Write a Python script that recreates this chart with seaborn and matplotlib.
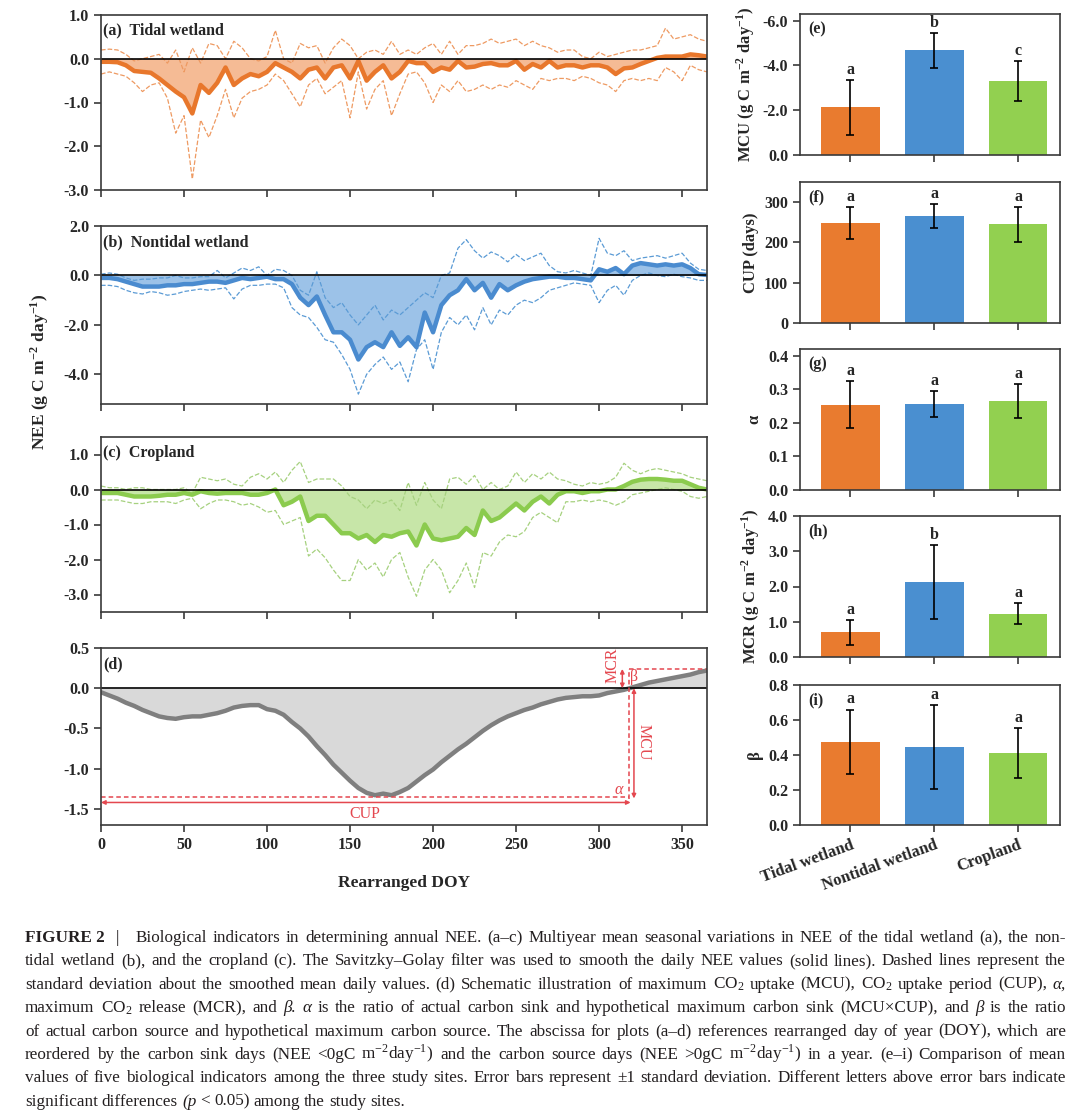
"""Recreate Figure 2: seasonal NEE curves (a-d) and biological indicator bars (e-i)."""

import matplotlib

matplotlib.use("Agg")

import matplotlib.pyplot as plt
import numpy as np
import pandas as pd
import seaborn as sns
from matplotlib.ticker import FormatStrFormatter

W, H = 1080, 1114

# rearranged day of year, sampled every 5 days
DOY = np.arange(0, 366, 5)

TIDAL_MEAN = [
    -0.07, -0.07, -0.08, -0.15, -0.28, -0.30, -0.32, -0.45, -0.60, -0.75,
    -0.88, -1.25, -0.60, -0.78, -0.55, -0.20, -0.60, -0.45, -0.35, -0.40,
    -0.30, -0.10, -0.20, -0.30, -0.45, -0.25, -0.20, -0.45, -0.20, -0.15,
    -0.45, -0.05, -0.50, -0.30, -0.15, -0.45, -0.30, -0.05, -0.10, -0.10,
    -0.30, -0.20, -0.25, -0.05, -0.20, -0.18, -0.12, -0.10, -0.15, -0.15,
    -0.05, -0.25, -0.12, -0.20, -0.05, -0.20, -0.15, -0.15, -0.20, -0.15,
    -0.15, -0.20, -0.35, -0.22, -0.20, -0.12, -0.05, 0.02, 0.05, 0.05,
    0.05, 0.10, 0.08, 0.05,
]
TIDAL_UPPER = [
    0.20, 0.22, 0.20, 0.10, -0.05, 0.00, 0.05, 0.10, -0.10, 0.20,
    -0.30, 0.25, -0.10, 0.35, 0.30, 0.00, 0.40, 0.25, 0.00, -0.05,
    0.05, 0.65, 0.00, -0.10, 0.35, 0.25, 0.30, -0.10, 0.25, 0.45,
    0.30, 0.00, 0.15, 0.20, 0.10, 0.40, 0.10, 0.20, 0.10, 0.25,
    0.35, 0.10, 0.40, 0.10, 0.30, 0.30, 0.35, 0.45, 0.35, 0.40,
    0.45, 0.30, 0.40, 0.30, 0.25, 0.15, 0.20, 0.20, 0.05, 0.00,
    0.15, 0.05, 0.10, 0.15, 0.20, 0.20, 0.25, 0.30, 0.70, 0.45,
    0.50, 0.55, 0.45, 0.40,
]
TIDAL_LOWER = [
    -0.35, -0.30, -0.35, -0.40, -0.55, -0.75, -0.60, -0.55, -0.90, -1.70,
    -1.30, -2.75, -1.40, -1.80, -1.30, -0.70, -1.35, -0.90, -0.75, -0.70,
    -0.60, -0.35, -0.50, -0.80, -1.10, -0.60, -0.45, -0.80, -0.65, -0.50,
    -1.35, -0.30, -1.15, -0.70, -0.50, -1.30, -0.80, -0.35, -0.30, -0.55,
    -1.00, -0.60, -0.75, -0.50, -0.75, -0.70, -0.60, -0.70, -0.60, -0.65,
    -0.50, -0.60, -0.70, -0.45, -0.50, -0.45, -0.45, -0.50, -0.40, -0.45,
    -0.55, -0.60, -0.75, -0.50, -0.45, -0.50, -0.45, -0.50, -0.20, -0.30,
    -0.50, -0.15, -0.25, -0.30,
]

NONTIDAL_MEAN = [
    -0.10, -0.10, -0.15, -0.25, -0.35, -0.45, -0.45, -0.45, -0.40, -0.40,
    -0.35, -0.35, -0.30, -0.25, -0.25, -0.30, -0.20, -0.10, -0.15, -0.10,
    -0.05, -0.15, -0.15, -0.35, -0.90, -1.20, -0.85, -1.60, -2.30, -2.30,
    -2.60, -3.40, -2.90, -2.70, -2.90, -2.30, -2.85, -2.50, -2.90, -1.50,
    -2.30, -1.20, -0.80, -0.60, -0.15, -0.60, -0.30, -0.90, -0.35, -0.60,
    -0.40, -0.25, -0.15, -0.10, -0.05, -0.05, -0.10, -0.10, -0.15, -0.20,
    0.25, 0.15, 0.30, 0.05, 0.40, 0.50, 0.45, 0.40, 0.45, 0.40,
    0.45, 0.30, 0.05, 0.02,
]
NONTIDAL_UPPER = [
    0.05, 0.10, 0.05, -0.10, -0.20, -0.15, -0.15, -0.10, -0.10, 0.00,
    -0.10, -0.10, -0.05, -0.05, 0.20, -0.10, 0.10, 0.30, 0.20, 0.35,
    0.00, 0.25, 0.20, 0.00, -0.60, -0.80, 0.15, -0.90, -1.30, -1.10,
    -1.60, -2.00, -1.60, -1.20, -1.80, -1.40, -1.60, -1.30, -1.00, -0.70,
    -0.90, 0.00, 0.10, 1.10, 1.45, 1.00, 0.70, 0.95, 0.80, 0.55,
    0.85, 0.60, 0.75, 0.90, 0.40, 0.15, 0.10, 0.20, 0.10, 0.00,
    1.50, 0.90, 0.80, 1.00, 0.60, 0.70, 0.75, 0.80, 0.70, 0.80,
    0.90, 0.50, 0.25, 0.20,
]
NONTIDAL_LOWER = [
    -0.40, -0.40, -0.45, -0.60, -0.70, -0.75, -0.65, -0.70, -0.80, -0.75,
    -0.65, -0.60, -0.55, -0.60, -0.55, -0.50, -0.95, -0.55, -0.40, -0.40,
    -0.35, -0.35, -0.50, -1.30, -1.60, -1.70, -2.10, -2.60, -2.70, -3.20,
    -3.80, -4.80, -4.00, -3.60, -3.30, -3.80, -3.50, -4.30, -3.00, -2.60,
    -3.80, -2.30, -1.70, -2.00, -1.60, -2.20, -1.30, -2.00, -1.40, -1.60,
    -1.20, -1.00, -1.10, -0.90, -0.60, -0.50, -0.40, -0.30, -0.35, -0.40,
    -1.10, -0.60, -0.40, -0.80, -0.20, 0.00, 0.10, 0.00, -0.05, 0.05,
    -0.05, -0.10, -0.20, -0.20,
]

CROP_MEAN = [
    -0.10, -0.10, -0.10, -0.15, -0.20, -0.20, -0.20, -0.18, -0.15, -0.15,
    -0.10, -0.15, -0.05, -0.10, -0.12, -0.10, -0.10, -0.10, -0.15, -0.15,
    -0.10, 0.00, -0.45, -0.35, -0.20, -0.90, -0.75, -0.75, -1.00, -1.25,
    -1.25, -1.40, -1.30, -1.50, -1.30, -1.35, -1.25, -1.20, -1.60, -1.00,
    -1.40, -1.45, -1.40, -1.35, -1.10, -1.30, -0.60, -0.90, -0.80, -0.60,
    -0.40, -0.60, -0.35, -0.20, -0.40, -0.15, -0.05, -0.05, -0.10, -0.05,
    -0.05, 0.00, 0.00, 0.10, 0.22, 0.28, 0.30, 0.30, 0.28, 0.25,
    0.25, 0.15, 0.05, 0.00,
]
CROP_UPPER = [
    0.10, 0.05, 0.05, 0.00, 0.05, 0.05, 0.00, 0.00, 0.00, 0.00,
    0.05, -0.10, 0.35, 0.30, 0.25, 0.30, 0.15, 0.10, 0.35, 0.45,
    0.30, 0.50, 0.20, 0.55, 0.80, 0.20, 0.30, 0.30, 0.30, 0.10,
    -0.20, -0.30, -0.55, -0.30, -0.40, -0.30, -0.60, 0.20, -0.45, 0.20,
    -0.30, -0.55, 0.30, 0.35, 0.15, 0.40, 0.00, 0.20, 0.00, 0.10,
    0.50, 0.20, 0.45, 0.30, 0.50, 0.30, 0.25, 0.15, 0.10, 0.20,
    0.15, 0.20, 0.35, 0.75, 0.55, 0.45, 0.55, 0.60, 0.55, 0.50,
    0.45, 0.35, 0.30, 0.25,
]
CROP_LOWER = [
    -0.30, -0.30, -0.30, -0.35, -0.40, -0.40, -0.35, -0.35, -0.35, -0.40,
    -0.30, -0.25, -0.55, -0.40, -0.30, -0.30, -0.35, -0.45, -0.40, -0.50,
    -0.65, -0.60, -1.00, -0.90, -0.80, -1.90, -1.70, -1.95, -2.30, -2.60,
    -2.60, -2.00, -2.30, -2.10, -2.50, -2.00, -1.80, -2.50, -3.05, -2.30,
    -2.00, -2.30, -2.95, -2.60, -2.10, -2.80, -1.80, -1.90, -1.50, -1.30,
    -1.35, -1.20, -0.80, -0.65, -0.80, -0.95, -0.35, -0.35, -0.30, -0.35,
    -0.30, -0.35, -0.45, -0.35, -0.15, -0.10, -0.05, 0.00, 0.05, 0.00,
    -0.05, -0.20, -0.25, -0.20,
]

SCHEME_NEE = [
    -0.05, -0.09, -0.13, -0.18, -0.22, -0.27, -0.31, -0.35, -0.37, -0.38,
    -0.36, -0.35, -0.35, -0.33, -0.31, -0.28, -0.24, -0.22, -0.21, -0.21,
    -0.26, -0.28, -0.33, -0.42, -0.50, -0.60, -0.72, -0.83, -0.95, -1.05,
    -1.15, -1.24, -1.30, -1.33, -1.31, -1.33, -1.29, -1.24, -1.16, -1.08,
    -1.01, -0.92, -0.84, -0.76, -0.69, -0.61, -0.53, -0.46, -0.40, -0.35,
    -0.31, -0.27, -0.24, -0.20, -0.17, -0.14, -0.12, -0.11, -0.10, -0.10,
    -0.09, -0.06, -0.04, -0.02, 0.01, 0.04, 0.07, 0.09, 0.11, 0.13,
    0.15, 0.17, 0.20, 0.22,
]
# schematic marks in (d)
CUP_END = 318
MCU_LEVEL = -1.35
MCR_LEVEL = 0.24

SITES = ["Tidal wetland", "Nontidal wetland", "Cropland"]
MCU_MEAN = [-2.13, -4.68, -3.31]
MCU_SD = [1.22, 0.78, 0.90]
MCU_LETTERS = ["a", "b", "c"]
CUP_MEAN = [248, 265, 245]
CUP_SD = [40, 30, 43]
CUP_LETTERS = ["a", "a", "a"]
ALPHA_MEAN = [0.254, 0.256, 0.265]
ALPHA_SD = [0.070, 0.040, 0.050]
ALPHA_LETTERS = ["a", "a", "a"]
MCR_MEAN = [0.70, 2.13, 1.23]
MCR_SD = [0.35, 1.05, 0.29]
MCR_LETTERS = ["a", "b", "a"]
BETA_MEAN = [0.475, 0.445, 0.410]
BETA_SD = [0.185, 0.238, 0.142]
BETA_LETTERS = ["a", "a", "a"]

BAR_COLORS = ["#E97B2F", "#4A8FD0", "#92D050"]
RED = "#E4474F"

# words containing "§" are set in italics
CAPTION = [
    "Biological indicators in determining annual NEE. (a–c) Multiyear mean seasonal variations in NEE of the tidal wetland (a), the non-",
    "tidal wetland (b), and the cropland (c). The Savitzky–Golay filter was used to smooth the daily NEE values (solid lines). Dashed lines represent the",
    r"standard deviation about the smoothed mean daily values. (d) Schematic illustration of maximum CO$_{\mathregular{2}}$ uptake (MCU), CO$_{\mathregular{2}}$ uptake period (CUP), §α,",
    r"maximum CO$_{\mathregular{2}}$ release (MCR), and §β. §α is the ratio of actual carbon sink and hypothetical maximum carbon sink (MCU×CUP), and §β is the ratio",
    "of actual carbon source and hypothetical maximum carbon source. The abscissa for plots (a–d) references rearranged day of year (DOY), which are",
    r"reordered by the carbon sink days (NEE <0gC m$^{\mathregular{-2}}$day$^{\mathregular{-1}}$) and the carbon source days (NEE >0gC m$^{\mathregular{-2}}$day$^{\mathregular{-1}}$) in a year. (e–i) Comparison of mean",
    "values of five biological indicators among the three study sites. Error bars represent ±1 standard deviation. Different letters above error bars indicate",
    "significant differences (§p < 0.05) among the study sites.",
]

UNIT = r"(g C m$^{\mathregular{-2}}$ day$^{\mathregular{-1}}$)"


def add_axes_px(fig, left, top, right, bottom):
    return fig.add_axes([left / W, 1 - bottom / H, (right - left) / W, (bottom - top) / H])


def style_box(ax):
    for sp in ax.spines.values():
        sp.set_visible(True)
        sp.set_linewidth(1.2)
        sp.set_color("#3a3a3a")
    ax.tick_params(length=5, width=1.2, labelsize=11.5, color="#3a3a3a")


def draw_site(ax, mean, upper, lower, colors, ylim, yticks, label):
    line_c, fill_c, dash_c = colors
    ax.fill_between(DOY, mean, 0, color=fill_c, lw=0)
    sns.lineplot(x=DOY, y=upper, ax=ax, color=dash_c, lw=0.9, linestyle="--")
    sns.lineplot(x=DOY, y=lower, ax=ax, color=dash_c, lw=0.9, linestyle="--")
    sns.lineplot(x=DOY, y=mean, ax=ax, color=line_c, lw=3.2)
    ax.axhline(0, color="black", lw=1.2)
    ax.set_xlim(0, 365)
    ax.set_ylim(ylim)
    ax.set_yticks(yticks)
    ax.set_xticks(range(0, 351, 50))
    ax.yaxis.set_major_formatter(FormatStrFormatter("%.1f"))
    ax.set_xlabel("")
    ax.set_ylabel("")
    style_box(ax)
    ax.tick_params(axis="x", labelbottom=False)
    ax.text(0.004, 0.955, label, transform=ax.transAxes, ha="left", va="top", fontsize=11.5)


def draw_bars(ax, vals, sds, letters, ylim, yticks, fmt, ylabel, tag):
    df = pd.DataFrame({"site": SITES, "value": vals})
    sns.barplot(data=df, x="site", y="value", hue="site", palette=BAR_COLORS,
                ax=ax, width=0.7, legend=False, saturation=1, linewidth=0)
    ax.errorbar(range(3), vals, yerr=sds, fmt="none", ecolor="black",
                elinewidth=1.2, capsize=3, capthick=1.2)
    for i, (v, s, lab) in enumerate(zip(vals, sds, letters)):
        top = v + s if v >= 0 else v - s
        ax.annotate(lab, (i, top), xytext=(0, 1.5), textcoords="offset points",
                    ha="center", va="bottom", fontsize=11.5)
    ax.set_xlim(-0.6, 2.5)
    ax.set_ylim(ylim)
    ax.set_yticks(yticks)
    ax.yaxis.set_major_formatter(FormatStrFormatter(fmt))
    ax.set_xlabel("")
    ax.set_ylabel(ylabel, fontsize=12)
    style_box(ax)
    ax.tick_params(axis="x", labelbottom=False)
    ax.text(0.03, 0.95, tag, transform=ax.transAxes, ha="left", va="top", fontsize=11.5)


def put_line(fig, renderer, words, x0, x1, y, justify=True, **kw):
    objs = []
    for w in words:
        style = "normal"
        if "§" in w:
            w, style = w.replace("§", ""), "italic"
        objs.append(fig.text(0, 1 - y / H, w, ha="left", va="baseline", fontstyle=style, **kw))
    widths = [t.get_window_extent(renderer).width for t in objs]
    gap = 4.0
    if justify and len(objs) > 1:
        gap = max((x1 - x0 - sum(widths)) / (len(objs) - 1), 2.5)
    x = x0
    for t, w in zip(objs, widths):
        t.set_x(x / W)
        x += w + gap


def main() -> None:
    sns.set_style("ticks")
    plt.rcParams.update({
        "font.family": ["Liberation Serif", "DejaVu Serif"],
        "font.weight": "bold",
        "axes.labelweight": "bold",
        "mathtext.fontset": "stix",
        "axes.unicode_minus": False,
        "xtick.direction": "out",
        "ytick.direction": "out",
    })

    fig = plt.figure(figsize=(W / 100, H / 100), dpi=100)
    fig.patch.set_facecolor("white")

    ax_a = add_axes_px(fig, 101, 15, 707, 190)
    draw_site(ax_a, TIDAL_MEAN, TIDAL_UPPER, TIDAL_LOWER,
              ("#E8772C", "#F5BB95", "#EE9A62"), (-3, 1), [-3, -2, -1, 0, 1],
              "(a)  Tidal wetland")

    ax_b = add_axes_px(fig, 101, 226, 707, 404)
    draw_site(ax_b, NONTIDAL_MEAN, NONTIDAL_UPPER, NONTIDAL_LOWER,
              ("#4A8BCF", "#9CC2E8", "#5B9BD5"), (-5.2, 2), [-4, -2, 0, 2],
              "(b)  Nontidal wetland")

    ax_c = add_axes_px(fig, 101, 437, 707, 612)
    draw_site(ax_c, CROP_MEAN, CROP_UPPER, CROP_LOWER,
              ("#8BCB4E", "#C7E6A8", "#A6D17F"), (-3.5, 1.5), [-3, -2, -1, 0, 1],
              "(c)  Cropland")

    ax_d = add_axes_px(fig, 101, 648, 707, 825)
    ax_d.fill_between(DOY, SCHEME_NEE, 0, color="#D9D9D9", lw=0)
    sns.lineplot(x=DOY, y=SCHEME_NEE, ax=ax_d, color="#7F7F7F", lw=3.2)
    ax_d.axhline(0, color="black", lw=1.2)
    ax_d.set_xlim(0, 365)
    ax_d.set_ylim(-1.7, 0.5)
    ax_d.set_yticks([-1.5, -1.0, -0.5, 0.0, 0.5])
    ax_d.set_xticks(range(0, 351, 50))
    ax_d.yaxis.set_major_formatter(FormatStrFormatter("%.1f"))
    ax_d.set_ylabel("")
    ax_d.set_xlabel("Rearranged DOY", fontsize=12.5, labelpad=16)
    style_box(ax_d)
    ax_d.text(0.004, 0.955, "(d)", transform=ax_d.transAxes, ha="left", va="top", fontsize=11.5)

    # schematic: MCU, CUP, MCR, alpha and beta
    dash = dict(color=RED, lw=1.1, ls=(0, (3, 2)))
    ax_d.plot([0, CUP_END], [MCU_LEVEL, MCU_LEVEL], **dash)
    ax_d.plot([CUP_END, CUP_END], [MCU_LEVEL - 0.03, MCR_LEVEL], **dash)
    ax_d.plot([CUP_END, 365], [MCR_LEVEL, MCR_LEVEL], **dash)
    arrow = dict(arrowstyle="<|-|>", color=RED, lw=1.1, mutation_scale=6, shrinkA=0, shrinkB=0)
    ax_d.annotate("", xy=(0, MCU_LEVEL - 0.07), xytext=(CUP_END + 1, MCU_LEVEL - 0.07), arrowprops=arrow)
    ax_d.annotate("", xy=(CUP_END + 3, 0), xytext=(CUP_END + 3, MCU_LEVEL - 0.02), arrowprops=arrow)
    ax_d.annotate("", xy=(CUP_END - 4, 0), xytext=(CUP_END - 4, MCR_LEVEL), arrowprops=arrow)
    red_txt = dict(color=RED, fontsize=11.5, fontweight="normal", ha="center", va="center")
    ax_d.text(CUP_END / 2, MCU_LEVEL - 0.21, "CUP", **red_txt)
    ax_d.text(CUP_END + 9, MCU_LEVEL / 2, "MCU", rotation=-90, **red_txt)
    ax_d.text(CUP_END - 10, MCR_LEVEL + 0.04, "MCR", rotation=90, **red_txt)
    ax_d.text(CUP_END + 3, MCR_LEVEL / 2 + 0.02, "β", **red_txt)
    ax_d.text(CUP_END - 6, MCU_LEVEL + 0.09, "α", fontstyle="italic", **red_txt)

    fig.text(40 / W, 1 - 372 / H, "NEE " + UNIT, rotation=90, ha="center", va="center", fontsize=12.5)

    ax_e = add_axes_px(fig, 800, 14, 1060, 155)
    draw_bars(ax_e, MCU_MEAN, MCU_SD, MCU_LETTERS, (0, -6.3), [0, -2, -4, -6], "%.1f",
              "MCU " + UNIT, "(e)")
    ax_f = add_axes_px(fig, 800, 182, 1060, 323)
    draw_bars(ax_f, CUP_MEAN, CUP_SD, CUP_LETTERS, (0, 350), [0, 100, 200, 300], "%d",
              "CUP (days)", "(f)")
    ax_g = add_axes_px(fig, 800, 349, 1060, 490)
    draw_bars(ax_g, ALPHA_MEAN, ALPHA_SD, ALPHA_LETTERS, (0, 0.42), [0, 0.1, 0.2, 0.3, 0.4], "%.1f",
              "α", "(g)")
    ax_h = add_axes_px(fig, 800, 516, 1060, 657)
    draw_bars(ax_h, MCR_MEAN, MCR_SD, MCR_LETTERS, (0, 4.0), [0, 1, 2, 3, 4], "%.1f",
              "MCR " + UNIT, "(h)")
    ax_i = add_axes_px(fig, 800, 685, 1060, 825)
    draw_bars(ax_i, BETA_MEAN, BETA_SD, BETA_LETTERS, (0, 0.8), [0, 0.2, 0.4, 0.6, 0.8], "%.1f",
              "β", "(i)")
    ax_i.tick_params(axis="x", labelbottom=True)
    ax_i.set_xticks(range(3))
    ax_i.set_xticklabels(SITES, rotation=20, ha="right", rotation_mode="anchor", fontsize=12)

    # caption, justified line by line
    renderer = fig.canvas.get_renderer()
    cap_kw = dict(fontsize=12.3, fontweight="normal", color="#231F20")
    base = 942
    step = 23.4
    fig.text(25 / W, 1 - base / H, "FIGURE 2", ha="left", va="baseline",
             fontsize=12.3, fontweight="bold", color="#231F20")
    fig.text(116 / W, 1 - base / H, "|", ha="left", va="baseline", **cap_kw)
    for i, line in enumerate(CAPTION):
        x0 = 136 if i == 0 else 25
        last = i == len(CAPTION) - 1
        put_line(fig, renderer, line.split(" "), x0, 1066, base + step * i,
                 justify=not last, **cap_kw)

    fig.savefig("out.png", dpi=100, facecolor="white")
    plt.close(fig)


if __name__ == "__main__":
    main()
